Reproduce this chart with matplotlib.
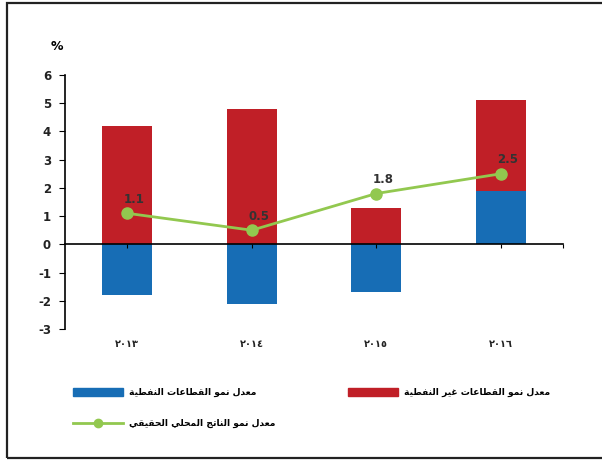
import matplotlib
matplotlib.use("Agg")
import matplotlib.pyplot as plt
from matplotlib.patches import Rectangle
from matplotlib.lines import Line2D
import numpy as np

years = ["٢٠١٣", "٢٠١٤", "٢٠١٥", "٢٠١٦"]
oil = [-1.8, -2.1, -1.7, 1.9]
non_oil = [4.2, 4.8, 1.3, 3.2]
gdp = [1.1, 0.5, 1.8, 2.5]

lbl_oil = "معدل نمو القطاعات النفطية"
lbl_non_oil = "معدل نمو القطاعات غير النفطية"
lbl_gdp = "معدل نمو الناتج المحلي الحقيقي"

# minimal arabic shaping: (isolated, final, initial, medial)
forms = {
    'ا': (0xFE8D, 0xFE8E, None, None),
    'ة': (0xFE93, 0xFE94, None, None),
    'ت': (0xFE95, 0xFE96, 0xFE97, 0xFE98),
    'ج': (0xFE9D, 0xFE9E, 0xFE9F, 0xFEA0),
    'ح': (0xFEA1, 0xFEA2, 0xFEA3, 0xFEA4),
    'د': (0xFEA9, 0xFEAA, None, None),
    'ر': (0xFEAD, 0xFEAE, None, None),
    'ط': (0xFEC1, 0xFEC2, 0xFEC3, 0xFEC4),
    'ع': (0xFEC9, 0xFECA, 0xFECB, 0xFECC),
    'غ': (0xFECD, 0xFECE, 0xFECF, 0xFED0),
    'ف': (0xFED1, 0xFED2, 0xFED3, 0xFED4),
    'ق': (0xFED5, 0xFED6, 0xFED7, 0xFED8),
    'ل': (0xFEDD, 0xFEDE, 0xFEDF, 0xFEE0),
    'م': (0xFEE1, 0xFEE2, 0xFEE3, 0xFEE4),
    'ن': (0xFEE5, 0xFEE6, 0xFEE7, 0xFEE8),
    'و': (0xFEED, 0xFEEE, None, None),
    'ي': (0xFEF1, 0xFEF2, 0xFEF3, 0xFEF4),
}


def shape(s):
    out = []
    for i, ch in enumerate(s):
        if ch not in forms:
            out.append(ch)
            continue
        prev = s[i - 1] if i > 0 else ''
        nxt = s[i + 1] if i + 1 < len(s) else ''
        jp = prev in forms and forms[prev][2] is not None
        jn = forms[ch][2] is not None and nxt in forms
        f = forms[ch]
        if jp and jn:
            c = f[3]
        elif jp:
            c = f[1]
        elif jn:
            c = f[2]
        else:
            c = f[0]
        out.append(chr(c))
    return ''.join(out)[::-1]


blue = '#176db5'
red = '#c01f27'
green = '#92c84f'

plt.rcParams['font.family'] = ['DejaVu Sans']
plt.rcParams['axes.unicode_minus'] = False
fig = plt.figure(figsize=(6.02, 4.61), dpi=100)
fig.patches.append(Rectangle((7 / 602, 1 - 458 / 461), 1.0, (458 - 3) / 461,
                             transform=fig.transFigure, fill=False,
                             edgecolor='#222222', linewidth=1.6))

ax = fig.add_axes([65 / 602, 1 - 329 / 461, 498 / 602, 254 / 461])
x = np.arange(len(years))
ax.bar(x, oil, width=0.4, color=blue)
ax.bar(x, non_oil, width=0.4, bottom=[max(o, 0) for o in oil], color=red)
ax.plot(x, gdp, color=green, linewidth=2, marker='o', markersize=8, zorder=3)
for xi, v in zip(x, gdp):
    ax.annotate(f"{v}", (xi, v), xytext=(5, 10), textcoords='offset points',
                ha='center', va='center', fontsize=8.5, fontweight='bold',
                color='#333333')

ax.set_xlim(-0.5, 3.5)
ax.set_ylim(-3, 6)
ax.set_yticks(range(-3, 7))
ax.tick_params(axis='y', direction='out', length=4, labelsize=8.5, pad=6,
               labelcolor='#222222')
for t in ax.get_yticklabels():
    t.set_fontweight('bold')
ax.spines['top'].set_visible(False)
ax.spines['right'].set_visible(False)
ax.spines['bottom'].set_position(('data', 0))
ax.spines['left'].set_linewidth(1.2)
ax.spines['bottom'].set_linewidth(1.2)
ax.set_xticks(list(x) + [3.5])
ax.set_xticklabels([])
ax.tick_params(axis='x', direction='out', length=3)
for xi, lab in zip(x, years):
    ax.text(xi, -3.35, lab, ha='center', va='top',
            fontsize=7, fontweight='bold', color='#222222')
ax.text(-0.564, 7.0, '%', ha='center', va='center', fontsize=9, fontweight='bold')

# legend
fig.patches.append(Rectangle((73 / 602, 1 - 396 / 461), 50 / 602, 8 / 461,
                             transform=fig.transFigure, color=blue))
fig.patches.append(Rectangle((348 / 602, 1 - 396 / 461), 50 / 602, 8 / 461,
                             transform=fig.transFigure, color=red))
fig.lines.append(Line2D([73 / 602, 123 / 602], [1 - 423 / 461] * 2,
                        transform=fig.transFigure, color=green, linewidth=2,
                        zorder=3))
fig.lines.append(Line2D([98 / 602], [1 - 423 / 461], transform=fig.transFigure,
                        color=green, marker='o', markersize=6))
fig.text(129 / 602, 1 - 392 / 461, shape(lbl_oil), ha='left', va='center',
         fontsize=6.6, fontweight='bold')
fig.text(404 / 602, 1 - 392 / 461, shape(lbl_non_oil), ha='left', va='center',
         fontsize=6.6, fontweight='bold')
fig.text(129 / 602, 1 - 423 / 461, shape(lbl_gdp), ha='left', va='center',
         fontsize=6.6, fontweight='bold')

fig.savefig('out.png', dpi=100)
